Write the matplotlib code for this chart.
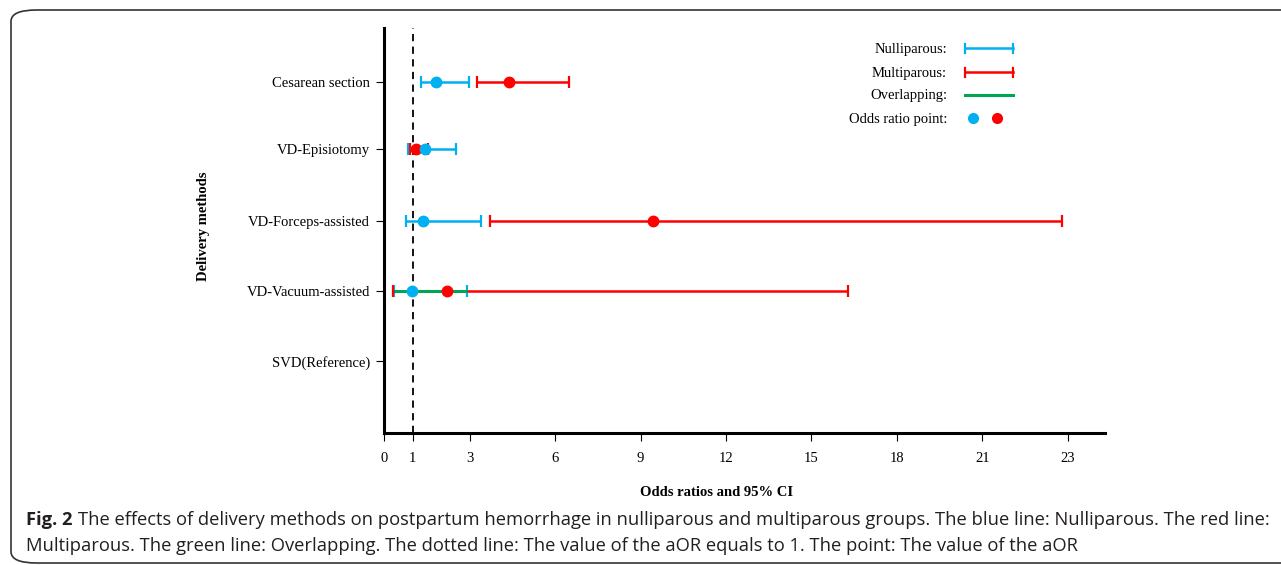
import matplotlib.pyplot as plt
from matplotlib.lines import Line2D
from matplotlib.patches import FancyBboxPatch

# delivery methods, top to bottom
methods = ["Cesarean section", "VD-Episiotomy", "VD-Forceps-assisted",
           "VD-Vacuum-assisted", "SVD(Reference)"]
rows = [5, 4.04, 3.0, 2.0, 1.0]

# nulliparous aOR and 95% CI (None = reference)
nulli_or = [1.82, 1.44, 1.36, 0.98, None]
nulli_lo = [1.30, 0.84, 0.77, 0.36, None]
nulli_hi = [2.98, 2.53, 3.40, 2.90, None]

# multiparous aOR and 95% CI
multi_or = [4.39, 1.12, 9.44, 2.22, None]
multi_lo = [3.26, 0.90, 3.73, 0.30, None]
multi_hi = [6.49, 1.53, 23.8, 16.28, None]

xtick_pos = [0, 1, 3, 6, 9, 12, 15, 18, 21, 24]
xtick_lab = ["0", "1", "3", "6", "9", "12", "15", "18", "21", "23"]

legend_labels = ["Nulliparous:", "Multiparous:", "Overlapping:", "Odds ratio point:"]

BLUE = "#00b0f0"
RED = "#ff0000"
GREEN = "#00a651"
serif = "Liberation Serif"
W, H = 1281, 565

fig = plt.figure(figsize=(12.81, 5.65), dpi=100)
ax = fig.add_axes([0.2998, 0.2336, 0.5628, 0.7168])

ax.axvline(1, color="black", ls=(0, (4, 3)), lw=1.3, zorder=1)

for i, y in enumerate(rows):
    if nulli_or[i] is None:
        continue
    ax.errorbar(nulli_or[i], y, xerr=[[nulli_or[i] - nulli_lo[i]], [nulli_hi[i] - nulli_or[i]]],
                fmt="none", ecolor=BLUE, elinewidth=1.8, capsize=4.5, capthick=1.6, zorder=2)
    ax.errorbar(multi_or[i], y, xerr=[[multi_or[i] - multi_lo[i]], [multi_hi[i] - multi_or[i]]],
                fmt="none", ecolor=RED, elinewidth=1.8, capsize=4.5, capthick=1.6, zorder=2)
    lo = max(nulli_lo[i], multi_lo[i])
    hi = min(nulli_hi[i], multi_hi[i])
    if hi > lo:
        ax.plot([lo, hi], [y, y], color=GREEN, lw=2.2, zorder=3, solid_capstyle="butt")
    ax.plot(multi_or[i], y, "o", color=RED, ms=7.5, zorder=4)
    ax.plot(nulli_or[i], y, "o", color=BLUE, ms=7.5, zorder=5)

ax.set_xlim(0, 25.3)
ax.set_ylim(-0.03, 5.77)
ax.set_xticks(xtick_pos)
ax.set_xticklabels(xtick_lab, fontfamily=serif, fontsize=10.5)
ax.set_yticks(rows)
ax.set_yticklabels(methods, fontfamily=serif, fontsize=10.5)
ax.tick_params(axis="x", length=6, width=0.8, pad=8)
ax.tick_params(axis="y", length=6, width=0.8, pad=4)
for s in ["top", "right"]:
    ax.spines[s].set_visible(False)
ax.spines["left"].set_linewidth(2.2)
ax.spines["bottom"].set_linewidth(2.2)

# hand-drawn legend (pixel layout -> figure coords)
def fx(px):
    return px / W

def fy(py):
    return 1 - py / H

leg_y = [48, 72, 95, 118]
for lab, py in zip(legend_labels, leg_y):
    fig.text(fx(947), fy(py + 1), lab, ha="right", va="center", fontfamily=serif, fontsize=10.5)
for col, py in [(BLUE, leg_y[0]), (RED, leg_y[1])]:
    fig.add_artist(Line2D([fx(965), fx(1013)], [fy(py), fy(py)], color=col, lw=1.8))
    for ex in (965, 1013):
        fig.add_artist(Line2D([fx(ex), fx(ex)], [fy(py - 4.5), fy(py + 4.5)], color=col, lw=1.6))
fig.add_artist(Line2D([fx(965), fx(1013)], [fy(leg_y[2]), fy(leg_y[2])], color=GREEN, lw=2.2))
fig.add_artist(Line2D([fx(973)], [fy(leg_y[3])], marker="o", ls="none", color=BLUE, ms=7))
fig.add_artist(Line2D([fx(997)], [fy(leg_y[3])], marker="o", ls="none", color=RED, ms=7))

fig.text(0.1592, 0.60, "Delivery methods", rotation=90, ha="center", va="center",
         fontfamily=serif, fontweight="bold", fontsize=10.5)
fig.text(0.5597, 0.128, "Odds ratios and 95% CI", ha="center", va="center",
         fontfamily=serif, fontweight="bold", fontsize=10.5)

# caption
cap_font = ["Open Sans", "DejaVu Sans"]
cap_size = 13.2
cap_x = fx(26)
t1 = fig.text(cap_x, fy(520), "Fig. 2", fontfamily=cap_font, fontweight="bold",
              fontsize=cap_size, color="#231f20", va="center")
fig.canvas.draw()
bb = t1.get_window_extent()
x2 = (bb.x1 + 5) / fig.bbox.width
fig.text(x2, fy(520), "The effects of delivery methods on postpartum hemorrhage in nulliparous and "
         "multiparous groups. The blue line: Nulliparous. The red line:",
         fontfamily=cap_font, fontsize=cap_size, color="#231f20", va="center")
fig.text(cap_x, fy(546), "Multiparous. The green line: Overlapping. The dotted line: The value of "
         "the aOR equals to 1. The point: The value of the aOR",
         fontfamily=cap_font, fontsize=cap_size, color="#231f20", va="center")

box = FancyBboxPatch((fx(11), fy(563)), 1.1, (563 - 10) / H, transform=fig.transFigure,
                     boxstyle="round,pad=0,rounding_size=0.02", fill=False,
                     edgecolor="#333333", lw=1.2, clip_on=False)
fig.add_artist(box)

fig.savefig("out.png", dpi=100)
